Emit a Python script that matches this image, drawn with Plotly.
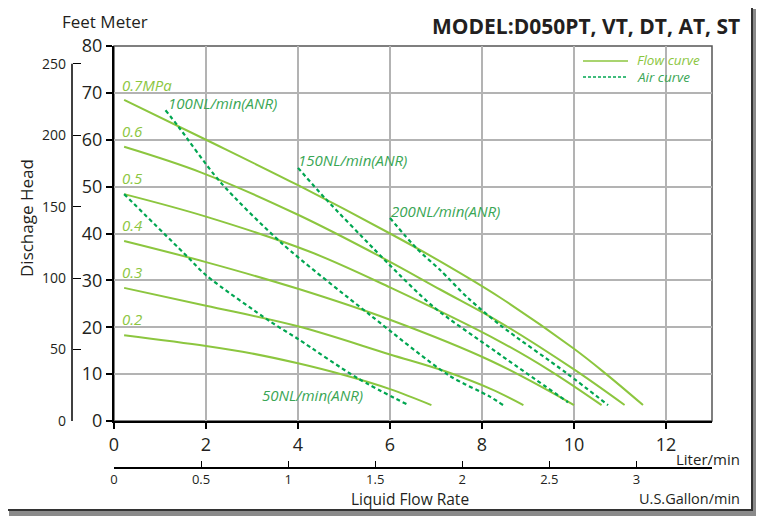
import plotly.graph_objects as go

# ---------------- data ----------------
liter_ticks = [0, 2, 4, 6, 8, 10, 12]
meter_ticks = [0, 10, 20, 30, 40, 50, 60, 70, 80]
feet_ticks = [0, 50, 100, 150, 200, 250]
gallon_ticks = [0, 0.5, 1, 1.5, 2, 2.5, 3]
gallon_labels = ["0", "0.5", "1", "1.5", "2", "2.5", "3"]

M_TO_FT = 3.28084
L_PER_GAL = 3.78541

pressures = ["0.7MPa", "0.6", "0.5", "0.4", "0.3", "0.2"]
flow_x_07 = [0.22, 2.0, 4.0, 6.0, 7.1, 8.4, 10.0, 10.7, 11.5]
flow_y_07 = [68.5, 60.0, 50.3, 40.0, 34.0, 26.3, 15.4, 10.0, 3.4]
flow_x_06 = [0.22, 1.9, 4.0, 5.9, 7.1, 8.4, 10.0, 11.1]
flow_y_06 = [58.5, 53.0, 44.0, 34.5, 28.0, 21.0, 11.0, 3.4]
flow_x_05 = [0.22, 2.0, 4.26, 6.0, 8.4, 9.5, 10.6]
flow_y_05 = [48.4, 43.6, 36.1, 28.5, 16.9, 10.6, 3.4]
flow_x_04 = [0.22, 2.0, 4.0, 6.0, 8.2, 10.0]
flow_y_04 = [38.4, 33.9, 28.2, 21.6, 12.8, 3.4]
flow_x_03 = [0.22, 2.0, 4.0, 6.0, 7.2, 8.2, 8.9]
flow_y_03 = [28.4, 24.6, 20.2, 14.2, 10.6, 6.8, 3.4]
flow_x_02 = [0.22, 2.0, 3.0, 4.0, 5.0, 6.0, 6.9]
flow_y_02 = [18.3, 16.0, 14.4, 12.3, 9.8, 6.8, 3.4]

air_names = ["50NL/min(ANR)", "100NL/min(ANR)", "150NL/min(ANR)", "200NL/min(ANR)"]
air_x_50 = [0.22, 1.6, 2.0, 3.4, 4.0, 5.3, 6.4]
air_y_50 = [48.4, 35.0, 31.1, 21.2, 17.5, 9.1, 3.4]
air_x_100 = [1.12, 1.4, 2.3, 3.65, 5.57, 7.27, 8.17, 8.46]
air_y_100 = [66.3, 62.8, 51.1, 37.9, 22.6, 9.8, 5.2, 3.4]
air_x_150 = [4.0, 4.59, 5.64, 6.0, 6.94, 8.3, 9.87]
air_y_150 = [54.0, 47.5, 36.8, 33.2, 24.4, 14.8, 4.0]
air_x_200 = [6.0, 6.58, 7.09, 7.7, 8.39, 9.84, 10.74]
air_y_200 = [43.3, 36.8, 32.2, 26.2, 20.5, 10.2, 3.4]

# label anchor points (data coords)
pressure_label_x = [0.12] * 6
pressure_label_y = [71.7, 61.9, 51.8, 41.8, 31.8, 21.8]
air_label_x = [3.18, 1.13, 3.96, 5.98]
air_label_y = [5.5, 67.8, 55.7, 44.8]

# ---------------- styling / geometry ----------------
OFF = 8                      # page body margin
W, H = 756, 510
ML, MR, MT, MB = 32, 52, 38, 20
PW, PH = W - ML - MR, H - MT - MB


def px(x):
    return (x - OFF - ML) / PW


def py(y):
    return (H - MB - (y - OFF)) / PH


LIGHT = "#8cc63f"
DARK = "#00a651"
LABEL_DARK = "#3aa655"
TXT = "#231f20"
FONT = "Open Sans"

fig = go.Figure()

flows = [(flow_x_07, flow_y_07), (flow_x_06, flow_y_06), (flow_x_05, flow_y_05),
         (flow_x_04, flow_y_04), (flow_x_03, flow_y_03), (flow_x_02, flow_y_02)]
for (xs, ys), name in zip(flows, pressures):
    fig.add_trace(go.Scatter(x=xs, y=ys, mode="lines", name=name, showlegend=False,
                             line=dict(color=LIGHT, width=2, shape="spline", smoothing=1.0)))

airs = [(air_x_50, air_y_50), (air_x_100, air_y_100), (air_x_150, air_y_150), (air_x_200, air_y_200)]
for (xs, ys), name in zip(airs, air_names):
    fig.add_trace(go.Scatter(x=xs, y=ys, mode="lines", name=name, showlegend=False,
                             line=dict(color=DARK, width=2.2, dash="4px,3px",
                                       shape="spline", smoothing=0.8)))

# dummy trace to activate secondary axes
fig.add_trace(go.Scatter(x=[0], y=[0], xaxis="x2", yaxis="y2", mode="markers",
                         marker=dict(opacity=0), showlegend=False, hoverinfo="skip"))

x_dom0 = px(114)
y_dom0 = py(421)

fig.update_layout(
    width=W, height=H,
    margin=dict(l=ML, r=MR, t=MT, b=MB, pad=0),
    paper_bgcolor="white",
    plot_bgcolor="rgba(0,0,0,0)",
    font=dict(family=FONT, color=TXT),
    showlegend=False,
    xaxis=dict(domain=[x_dom0, 1], range=[0, 13], tickvals=liter_ticks,
               showgrid=True, gridcolor="#b3b3b3", gridwidth=1.5,
               showline=True, linecolor="black", linewidth=2,
               ticks="outside", ticklen=6, tickwidth=1.5, tickcolor="black",
               tickfont=dict(size=18, color=TXT), zeroline=False, anchor="y",
               automargin=False),
    yaxis=dict(domain=[y_dom0, 1], range=[0, 80], tickvals=meter_ticks,
               showgrid=True, gridcolor="#b3b3b3", gridwidth=1.5,
               showline=True, linecolor="black", linewidth=2,
               ticks="outside", ticklen=6, tickwidth=1.5, tickcolor="black",
               tickfont=dict(size=18, color=TXT), zeroline=False, anchor="x",
               automargin=False),
    xaxis2=dict(overlaying="x", anchor="free", position=py(468), side="bottom",
                range=[0, 13 / L_PER_GAL], tickvals=gallon_ticks, ticktext=gallon_labels,
                showgrid=False, zeroline=False, showline=True, linecolor="black", linewidth=1.5,
                ticks="inside", ticklen=6, tickwidth=1.2, tickcolor="black",
                ticklabelstandoff=0,
                tickfont=dict(size=13, color=TXT), automargin=False),
    yaxis2=dict(overlaying="y", anchor="free", position=px(72), side="left",
                range=[0, 80 * M_TO_FT], tickvals=feet_ticks,
                showgrid=False, zeroline=False, showline=False,
                ticks="inside", ticklen=8, tickwidth=1.2, tickcolor="black",
                ticklabelstandoff=6,
                tickfont=dict(size=14, color=TXT), automargin=False),
)

shapes = [
    # shadow + frame
    dict(type="rect", xref="paper", yref="paper", x0=px(9), x1=px(758), y0=py(9), y1=py(516),
         fillcolor="#8a8a8a", line=dict(width=0), layer="below"),
    dict(type="rect", xref="paper", yref="paper", x0=px(4), x1=px(752), y0=py(3), y1=py(510),
         fillcolor="white", line=dict(color="#333333", width=2), layer="below"),
    # plot border
    dict(type="rect", xref="x domain", yref="y domain", x0=0, x1=1, y0=0, y1=1,
         line=dict(color="#555555", width=1.5), layer="below"),
    # feet axis line
    dict(type="line", xref="paper", yref="y2", x0=px(72), x1=px(72), y0=0, y1=250,
         line=dict(color="black", width=1.5)),
    # legend samples
    dict(type="line", xref="paper", yref="paper", x0=px(583), x1=px(628), y0=py(61), y1=py(61),
         line=dict(color=LIGHT, width=1.5)),
    dict(type="line", xref="paper", yref="paper", x0=px(583), x1=px(628), y0=py(77), y1=py(77),
         line=dict(color=DARK, width=1.3, dash="3px,2px")),
]
fig.update_layout(shapes=shapes)

ann = []
for t, x, y in zip(pressures, pressure_label_x, pressure_label_y):
    ann.append(dict(x=x, y=y, xref="x", yref="y", text=f"<i>{t}</i>", showarrow=False,
                    xanchor="left", yanchor="middle", font=dict(size=15, color=LIGHT)))
for t, x, y in zip(air_names, air_label_x, air_label_y):
    ann.append(dict(x=x, y=y, xref="x", yref="y", text=f"<i>{t}</i>", showarrow=False,
                    xanchor="left", yanchor="middle", font=dict(size=15, color=LABEL_DARK)))


def txt(text, x, y, size, xanchor="left", color=TXT, angle=0):
    ann.append(dict(x=px(x), y=py(y), xref="paper", yref="paper", text=text, showarrow=False,
                    xanchor=xanchor, yanchor="middle", textangle=angle,
                    font=dict(size=size, color=color)))


txt("Feet Meter", 60, 22, 17)
txt("<b>MODEL:D050PT, VT, DT, AT, ST</b>", 742, 26, 21, xanchor="right")
txt("<i>Flow curve</i>", 635, 60, 13.5, color=LIGHT)
txt("<i>Air curve</i>", 635, 77, 13.5, color=LABEL_DARK)
txt("Dischage Head", 26, 218, 17, xanchor="center", angle=-90)
txt("Liter/min", 742, 459, 15, xanchor="right")
txt("Liquid Flow Rate", 410, 499, 15.5, xanchor="center")
txt("U.S.Gallon/min", 742, 498, 14.5, xanchor="right")
fig.update_layout(annotations=ann)

fig.write_html("out.html")
